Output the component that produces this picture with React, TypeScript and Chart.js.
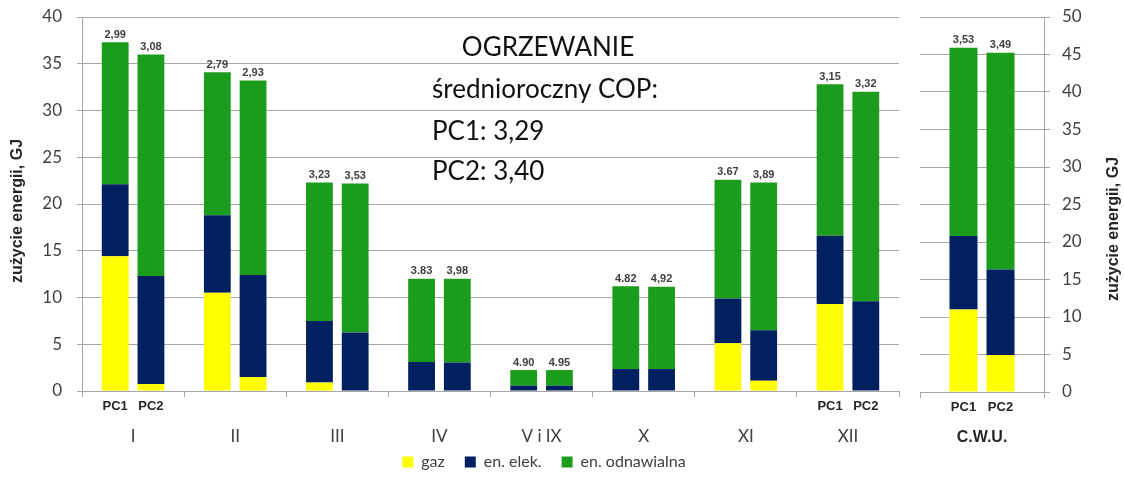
import React, { useEffect, useRef } from 'react';
import { Chart, registerables } from 'chart.js';

Chart.register(...registerables);

// ---------- DATA ----------
const months = ['I', 'II', 'III', 'IV', 'V i IX', 'X', 'XI', 'XII'];
const gazPC1 = [14.4, 10.5, 0.9, 0, 0, 0, 5.1, 9.3];
const elekPC1 = [7.7, 8.3, 6.6, 3.1, 0.57, 2.35, 4.8, 7.3];
const odnPC1 = [15.2, 15.3, 14.8, 8.9, 1.67, 8.85, 12.7, 16.2];
const gazPC2 = [0.75, 1.5, 0, 0, 0, 0, 1.1, 0];
const elekPC2 = [11.55, 10.9, 6.25, 3.05, 0.57, 2.35, 5.4, 9.6];
const odnPC2 = [23.7, 20.8, 15.95, 8.95, 1.67, 8.8, 15.8, 22.4];
const copPC1 = ['2,99', '2,79', '3,23', '3.83', '4.90', '4.82', '3.67', '3,15'];
const copPC2 = ['3,08', '2,93', '3,53', '3,98', '4.95', '4,92', '3,89', '3,32'];

const cwuCategories = ['C.W.U.'];
const cwuGazPC1 = [11.0];
const cwuElekPC1 = [9.8];
const cwuOdnPC1 = [25.1];
const cwuGazPC2 = [4.95];
const cwuElekPC2 = [11.4];
const cwuOdnPC2 = [28.9];
const cwuCopPC1 = ['3,53'];
const cwuCopPC2 = ['3,49'];

const seriesNames = ['gaz', 'en. elek.', 'en. odnawialna'];
const pumpNames = ['PC1', 'PC2'];
const leftTickMax = 40;
const rightTickMax = 50;
const tickStep = 5;
const axisTitle = 'zużycie energii, GJ';
const heatingTitle = 'OGRZEWANIE';
const copLines = ['średnioroczny COP:', 'PC1: 3,29', 'PC2: 3,40'];
const leftSubLabelIdx = [0, 7];
const rightSubLabelIdx = [0];

// ---------- STYLE ----------
const COLORS = ['#FFFF00', '#002060', '#1C9C1C'];
const GRID = '#a6a6a6';
const TXT = '#404040';

function makeDatasets(
  g1: number[], e1: number[], o1: number[],
  g2: number[], e2: number[], o2: number[]
) {
  const sets = [
    [g1, e1, o1],
    [g2, e2, o2],
  ];
  const out: any[] = [];
  sets.forEach((s, si) => {
    s.forEach((data, k) => {
      out.push({
        label: seriesNames[k],
        data,
        backgroundColor: COLORS[k],
        borderWidth: 0,
        stack: pumpNames[si],
        yAxisID: 'y',
      });
    });
  });
  return out;
}

function barLabelPlugin(l1: string[], l2: string[], subIdx: number[], catLabels: string[] | null) {
  return {
    id: 'barLabels',
    afterDraw(chart: any) {
      const ctx = chart.ctx;
      const m1 = chart.getDatasetMeta(2);
      const m2 = chart.getDatasetMeta(5);
      ctx.save();
      ctx.font = 'bold 11px "Liberation Sans", Arial';
      ctx.fillStyle = TXT;
      ctx.textAlign = 'center';
      ctx.textBaseline = 'bottom';
      m1.data.forEach((el: any, i: number) => ctx.fillText(l1[i], el.x, el.y - 2));
      m2.data.forEach((el: any, i: number) => ctx.fillText(l2[i], el.x, el.y - 2));
      // PC1 / PC2 sub labels
      const b1 = chart.getDatasetMeta(0);
      const b2 = chart.getDatasetMeta(3);
      ctx.font = 'bold 13px "Liberation Sans", Arial';
      ctx.fillStyle = '#262626';
      ctx.textBaseline = 'middle';
      const y = chart.chartArea.bottom + 15;
      subIdx.forEach((i) => {
        ctx.fillText(pumpNames[0], b1.data[i].x, y);
        ctx.fillText(pumpNames[1], b2.data[i].x, y);
      });
      // category labels
      if (catLabels) {
        ctx.font = '17px Lato';
        ctx.fillStyle = TXT;
        const xs = chart.scales.x;
        catLabels.forEach((t, i) => ctx.fillText(t, xs.getPixelForValue(i), chart.chartArea.bottom + 46));
      }
      ctx.restore();
    },
  };
}

function titlePlugin(x: number, y: number) {
  return {
    id: 'vTitle',
    afterDraw(chart: any) {
      const ctx = chart.ctx;
      ctx.save();
      ctx.translate(x, y);
      ctx.rotate(-Math.PI / 2);
      ctx.font = 'bold 16px "Liberation Sans", Arial';
      ctx.fillStyle = '#262626';
      ctx.textAlign = 'center';
      ctx.textBaseline = 'middle';
      ctx.fillText(axisTitle, 0, 0);
      ctx.restore();
    },
  };
}

const annotationPlugin = {
  id: 'heatingText',
  afterDraw(chart: any) {
    const ctx = chart.ctx;
    ctx.save();
    ctx.font = '26px Lato';
    ctx.fillStyle = '#111';
    ctx.textBaseline = 'middle';
    ctx.textAlign = 'center';
    ctx.fillText(heatingTitle, 548, 48);
    ctx.textAlign = 'left';
    const ys = [90, 132, 172];
    copLines.forEach((t, i) => ctx.fillText(t, 432, ys[i]));
    ctx.restore();
  },
};

const noPad = (s: any) => {
  s.paddingTop = 0;
  s.paddingBottom = 0;
  s.paddingLeft = 0;
  s.paddingRight = 0;
};

export default function App() {
  const leftRef = useRef<HTMLCanvasElement>(null);
  const rightRef = useRef<HTMLCanvasElement>(null);

  useEffect(() => {
    const left = new Chart(leftRef.current!, {
      type: 'bar',
      data: {
        labels: months,
        datasets: makeDatasets(gazPC1, elekPC1, odnPC1, gazPC2, elekPC2, odnPC2),
      },
      options: {
        responsive: false,
        animation: false,
        categoryPercentage: 0.7,
        barPercentage: 0.75,
        layout: { padding: { top: 17, left: 0, right: 36, bottom: 8 } },
        plugins: {
          tooltip: { enabled: false },
          legend: {
            position: 'bottom',
            labels: {
              filter: (item: any) => item.datasetIndex < 3,
              boxWidth: 11,
              boxHeight: 11,
              padding: 20,
              color: TXT,
              font: { family: 'Lato', size: 16 },
            },
          },
        },
        scales: {
          x: {
            stacked: true,
            grid: { drawOnChartArea: false, drawTicks: true, tickLength: 6, color: GRID, offset: true },
            border: { color: GRID },
            ticks: { display: false },
            afterFit: (s: any) => { s.height = 43; noPad(s); },
          },
          y: {
            stacked: true,
            min: 0,
            max: leftTickMax,
            ticks: { stepSize: tickStep, color: TXT, padding: 15, font: { family: 'Lato', size: 17 } },
            grid: { color: GRID, tickLength: 5 },
            border: { color: GRID },
            afterFit: (s: any) => { s.width = 82; noPad(s); },
          },
          yDummy: {
            position: 'right',
            display: true,
            grid: { display: false },
            ticks: { display: false },
            border: { display: false },
            afterFit: (s: any) => { s.width = 1124 - 36 - 899; noPad(s); },
          },
        },
      } as any,
      plugins: [barLabelPlugin(copPC1, copPC2, leftSubLabelIdx, months), titlePlugin(18, 211), annotationPlugin],
    });

    const right = new Chart(rightRef.current!, {
      type: 'bar',
      data: {
        labels: cwuCategories,
        datasets: makeDatasets(cwuGazPC1, cwuElekPC1, cwuOdnPC1, cwuGazPC2, cwuElekPC2, cwuOdnPC2),
      },
      options: {
        responsive: false,
        animation: false,
        categoryPercentage: 0.597,
        barPercentage: 0.757,
        layout: { padding: { top: 17, left: 20, right: 0, bottom: 36 } },
        plugins: { tooltip: { enabled: false }, legend: { display: false } },
        scales: {
          x: {
            stacked: true,
            grid: { drawOnChartArea: false, drawTicks: true, tickLength: 6, color: GRID, offset: true },
            border: { color: GRID },
            ticks: { color: '#262626', padding: 30, font: { family: '"Liberation Sans", Arial', size: 16, weight: 'bold' } },
            afterFit: (s: any) => { s.height = 60; noPad(s); },
          },
          y: {
            stacked: true,
            position: 'right',
            min: 0,
            max: rightTickMax,
            ticks: { stepSize: tickStep, color: TXT, padding: 12, font: { family: 'Lato', size: 17 } },
            grid: { color: GRID, tickLength: 6 },
            border: { color: GRID },
            afterFit: (s: any) => { s.width = 80; noPad(s); },
          },
        },
      } as any,
      plugins: [barLabelPlugin(cwuCopPC1, cwuCopPC2, rightSubLabelIdx, null), titlePlugin(214, 229)],
    });

    return () => {
      left.destroy();
      right.destroy();
    };
  }, []);

  return (
    <div style={{ position: 'absolute', left: 0, top: 0, width: 1124, height: 488, background: '#fff' }}>
      <canvas ref={leftRef} width={1124} height={488} style={{ position: 'absolute', left: 0, top: 0 }} />
      <canvas ref={rightRef} width={224} height={488} style={{ position: 'absolute', left: 900, top: 0 }} />
    </div>
  );
}
